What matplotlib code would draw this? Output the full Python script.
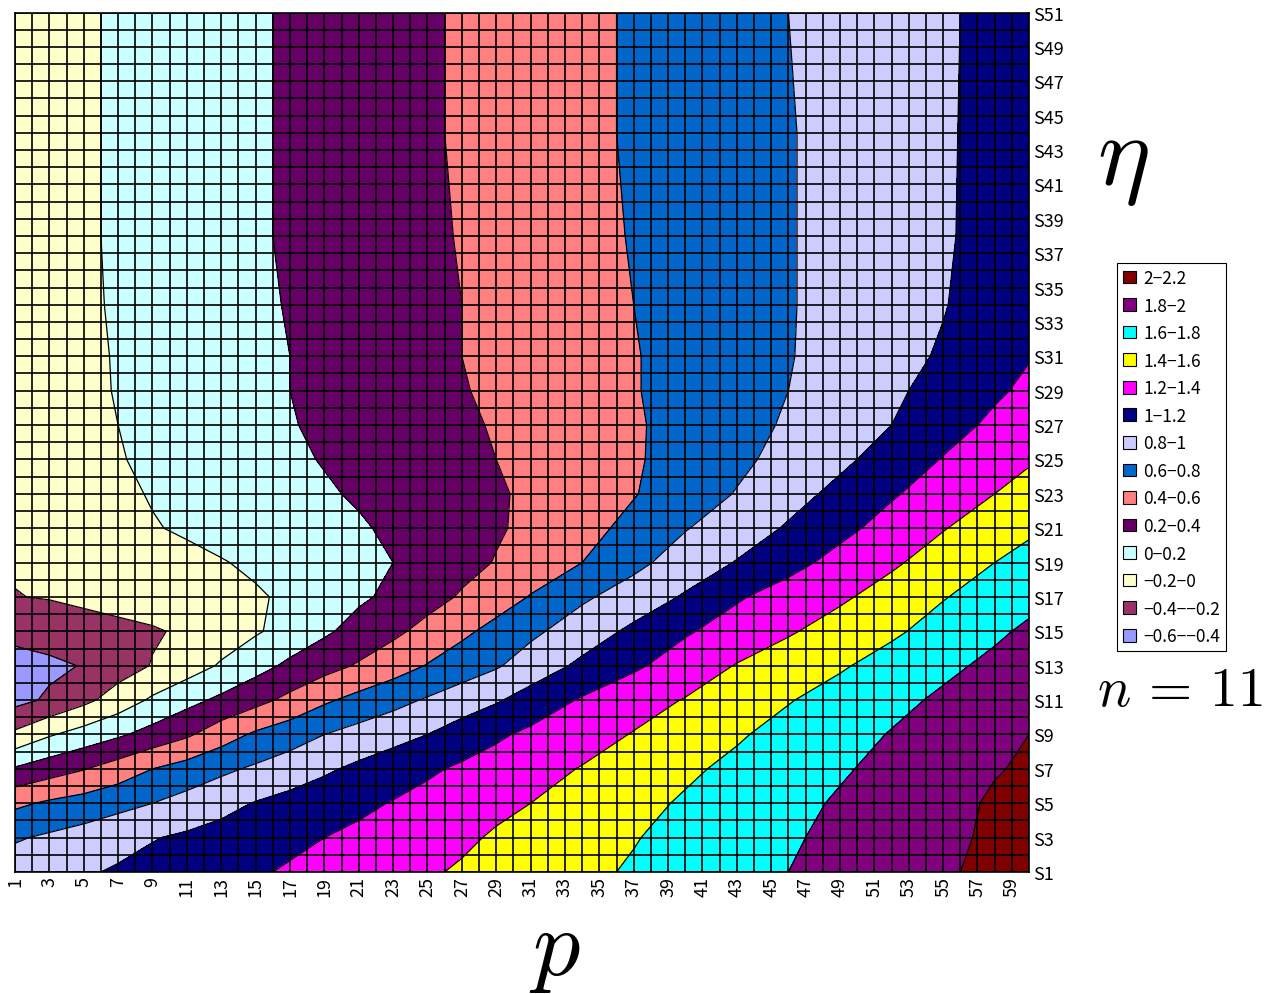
import numpy as np
import matplotlib
matplotlib.use("Agg")
import matplotlib.pyplot as plt
from matplotlib.patches import Patch

plt.rcParams['font.family'] = ['Noto Sans CJK JP', 'DejaVu Sans']
plt.rcParams['mathtext.fontset'] = 'cm'
plt.rcParams['contour.negative_linestyle'] = 'solid'

# ---- data ----
p_cols = [1, 3, 5, 7, 9, 11, 13, 15, 17, 19, 21, 23, 25, 27, 29, 31, 34, 37, 40, 43, 46, 49, 52, 55, 58, 60]
eta_rows = [1, 3, 5, 7, 9, 11, 13, 15, 17, 19, 21, 23, 25, 27, 29, 31, 34, 38, 44, 51]

z_S1  = [0.90, 0.94, 0.98, 1.02, 1.06, 1.10, 1.14, 1.18, 1.22, 1.26, 1.30, 1.34, 1.38, 1.42, 1.46, 1.50, 1.56, 1.62, 1.68, 1.74, 1.80, 1.86, 1.92, 1.98, 2.04, 2.08]
z_S3  = [0.78, 0.83, 0.88, 0.94, 0.99, 1.03, 1.07, 1.12, 1.16, 1.20, 1.24, 1.28, 1.33, 1.37, 1.42, 1.46, 1.53, 1.59, 1.66, 1.72, 1.78, 1.84, 1.90, 1.96, 2.03, 2.06]
z_S5  = [0.56, 0.63, 0.68, 0.74, 0.80, 0.87, 0.94, 1.01, 1.06, 1.11, 1.16, 1.21, 1.26, 1.31, 1.36, 1.40, 1.48, 1.55, 1.62, 1.69, 1.75, 1.82, 1.89, 1.95, 2.02, 2.04]
z_S7  = [0.22, 0.31, 0.39, 0.49, 0.60, 0.68, 0.76, 0.83, 0.90, 0.97, 1.04, 1.11, 1.17, 1.23, 1.28, 1.33, 1.41, 1.49, 1.57, 1.64, 1.71, 1.78, 1.85, 1.92, 1.99, 2.02]
z_S9  = [-0.16, -0.02, 0.08, 0.17, 0.27, 0.37, 0.51, 0.63, 0.71, 0.80, 0.87, 0.93, 1.00, 1.09, 1.17, 1.24, 1.32, 1.41, 1.50, 1.58, 1.66, 1.73, 1.81, 1.88, 1.95, 2.00]
z_S11 = [-0.46, -0.37, -0.25, -0.11, 0.03, 0.14, 0.24, 0.34, 0.45, 0.57, 0.66, 0.74, 0.82, 0.90, 0.98, 1.08, 1.22, 1.32, 1.41, 1.50, 1.59, 1.67, 1.75, 1.83, 1.90, 1.95]
z_S13 = [-0.48, -0.44, -0.39, -0.29, -0.19, -0.09, 0.02, 0.13, 0.24, 0.33, 0.42, 0.51, 0.61, 0.70, 0.78, 0.89, 1.04, 1.17, 1.29, 1.41, 1.50, 1.58, 1.67, 1.76, 1.84, 1.89]
z_S15 = [-0.34, -0.31, -0.28, -0.25, -0.22, -0.17, -0.10, -0.02, 0.07, 0.17, 0.27, 0.36, 0.46, 0.56, 0.66, 0.76, 0.90, 1.04, 1.18, 1.28, 1.38, 1.48, 1.57, 1.67, 1.77, 1.83]
z_S17 = [-0.205, -0.19, -0.16, -0.13, -0.10, -0.07, -0.05, -0.02, 0.03, 0.10, 0.17, 0.24, 0.33, 0.42, 0.51, 0.61, 0.77, 0.89, 1.02, 1.18, 1.28, 1.37, 1.48, 1.59, 1.68, 1.75]
z_S19 = [-0.185, -0.16, -0.13, -0.10, -0.07, -0.04, -0.01, 0.03, 0.07, 0.11, 0.16, 0.20, 0.27, 0.34, 0.41, 0.49, 0.60, 0.75, 0.89, 1.01, 1.14, 1.26, 1.37, 1.49, 1.60, 1.66]
z_S21 = [-0.18, -0.14, -0.10, -0.05, -0.01, 0.02, 0.06, 0.09, 0.12, 0.15, 0.18, 0.23, 0.28, 0.33, 0.38, 0.44, 0.54, 0.65, 0.79, 0.90, 1.02, 1.15, 1.27, 1.39, 1.50, 1.57]
z_S23 = [-0.17, -0.12, -0.08, -0.03, 0.01, 0.05, 0.08, 0.11, 0.15, 0.18, 0.22, 0.26, 0.30, 0.34, 0.38, 0.43, 0.51, 0.59, 0.70, 0.81, 0.93, 1.05, 1.18, 1.29, 1.40, 1.47]
z_S25 = [-0.16, -0.11, -0.06, -0.01, 0.03, 0.06, 0.10, 0.14, 0.17, 0.21, 0.25, 0.28, 0.32, 0.36, 0.40, 0.44, 0.51, 0.58, 0.67, 0.76, 0.86, 0.96, 1.08, 1.21, 1.31, 1.38]
z_S27 = [-0.15, -0.10, -0.05, 0.00, 0.04, 0.08, 0.11, 0.15, 0.19, 0.23, 0.26, 0.30, 0.34, 0.38, 0.41, 0.46, 0.52, 0.58, 0.66, 0.74, 0.82, 0.91, 1.00, 1.12, 1.24, 1.31]
z_S29 = [-0.14, -0.09, -0.04, 0.01, 0.04, 0.08, 0.12, 0.16, 0.20, 0.24, 0.27, 0.31, 0.35, 0.39, 0.43, 0.47, 0.53, 0.59, 0.66, 0.73, 0.80, 0.88, 0.97, 1.06, 1.17, 1.24]
z_S31 = [-0.13, -0.08, -0.03, 0.01, 0.05, 0.09, 0.13, 0.17, 0.20, 0.24, 0.28, 0.32, 0.36, 0.40, 0.44, 0.47, 0.53, 0.59, 0.66, 0.73, 0.79, 0.87, 0.94, 1.02, 1.12, 1.19]
z_S34 = [-0.12, -0.07, -0.03, 0.02, 0.05, 0.09, 0.13, 0.17, 0.21, 0.25, 0.29, 0.33, 0.37, 0.40, 0.44, 0.48, 0.54, 0.60, 0.66, 0.73, 0.79, 0.85, 0.92, 0.99, 1.09, 1.15]
z_S38 = [-0.11, -0.07, -0.02, 0.02, 0.06, 0.10, 0.14, 0.18, 0.22, 0.26, 0.29, 0.33, 0.37, 0.41, 0.45, 0.49, 0.55, 0.61, 0.67, 0.73, 0.79, 0.85, 0.92, 0.98, 1.06, 1.12]
z_S44 = [-0.10, -0.06, -0.02, 0.02, 0.06, 0.10, 0.14, 0.18, 0.22, 0.26, 0.30, 0.34, 0.38, 0.42, 0.46, 0.50, 0.56, 0.62, 0.68, 0.74, 0.79, 0.85, 0.91, 0.98, 1.05, 1.10]
z_S51 = [-0.10, -0.06, -0.02, 0.02, 0.06, 0.10, 0.14, 0.18, 0.22, 0.26, 0.30, 0.34, 0.38, 0.42, 0.46, 0.50, 0.56, 0.62, 0.68, 0.74, 0.80, 0.86, 0.92, 0.98, 1.04, 1.08]

levels = [-0.6, -0.4, -0.2, 0.0, 0.2, 0.4, 0.6, 0.8, 1.0, 1.2, 1.4, 1.6, 1.8, 2.0, 2.2]
band_colors = ['#9999FF', '#993366', '#FFFFCC', '#CCFFFF', '#660066', '#FF8080', '#0066CC',
               '#CCCCFF', '#000080', '#FF00FF', '#FFFF00', '#00FFFF', '#800080', '#800000']
band_labels = ['\u22120.6\u2212\u22120.4', '\u22120.4\u2212\u22120.2', '\u22120.2\u22120', '0\u22120.2',
               '0.2\u22120.4', '0.4\u22120.6', '0.6\u22120.8', '0.8\u22121', '1\u22121.2',
               '1.2\u22121.4', '1.4\u22121.6', '1.6\u22121.8', '1.8\u22122', '2\u22122.2']
x_tick_values = list(range(1, 60, 2))
y_tick_values = list(range(1, 52, 2))

# ---- figure ----
fig = plt.figure(figsize=(12.72, 9.95), dpi=100)
ax = fig.add_axes([15 / 1272, 1 - 873 / 995, (1029 - 15) / 1272, (873 - 13.5) / 995])

Z = np.array([z_S1, z_S3, z_S5, z_S7, z_S9, z_S11, z_S13, z_S15, z_S17, z_S19, z_S21,
              z_S23, z_S25, z_S27, z_S29, z_S31, z_S34, z_S38, z_S44, z_S51])
P, R = np.meshgrid(p_cols, eta_rows)

ax.contourf(P, R, Z, levels=levels, colors=band_colors)
ax.contour(P, R, Z, levels=levels, colors='k', linewidths=0.9, linestyles='solid')

ax.set_xlim(1, 60)
ax.set_ylim(1, 51)
ax.set_xticks(x_tick_values)
ax.set_xticklabels([str(v) for v in x_tick_values], rotation=90, fontsize=13)
ax.set_xticks(range(1, 61), minor=True)
ax.yaxis.tick_right()
ax.set_yticks(y_tick_values)
ax.set_yticklabels(['S%d' % v for v in y_tick_values], fontsize=13)
ax.set_yticks(range(1, 52), minor=True)
ax.tick_params(which='both', length=0)
ax.tick_params(axis='x', pad=3)
ax.tick_params(axis='y', pad=3)
ax.grid(which='both', color='black', linewidth=1.2)
ax.set_axisbelow(False)
for s in ax.spines.values():
    s.set_color('black')
    s.set_linewidth(1.2)

fig.text(1123 / 1272, 1 - 156 / 995, r'$\eta$', fontsize=72, ha='center', va='center')
fig.text(555 / 1272, 1 - 948 / 995, r'$p$', fontsize=68, ha='center', va='center')
fig.text(1180 / 1272, 1 - 690 / 995, r'$n\,=\,11$', fontsize=40, ha='center', va='center')

handles = [Patch(facecolor=c, edgecolor='black', linewidth=0.8) for c in band_colors[::-1]]
leg = fig.legend(handles, band_labels[::-1], loc='upper left',
                 bbox_to_anchor=(1117 / 1272, 1 - 264 / 995), frameon=True, fancybox=False,
                 edgecolor='black', framealpha=1, fontsize=12.5, handlelength=0.75,
                 handleheight=0.75, handletextpad=0.4, labelspacing=0.55, borderpad=0.35,
                 borderaxespad=0)
leg.get_frame().set_linewidth(0.8)

fig.savefig('out.png', dpi=100)
